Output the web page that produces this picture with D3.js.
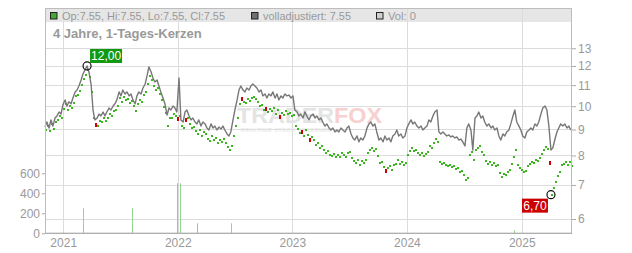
<!DOCTYPE html>
<html>
<head>
<meta charset="utf-8">
<script src="https://cdn.jsdelivr.net/npm/d3@7.9.0/dist/d3.min.js"></script>
<style>
  html, body { margin: 0; padding: 0; background: #fff; }
  svg { display: block; font-family: 'Liberation Sans', Arial, sans-serif; }
  .axis text { fill: #999; font-size: 12px; }
  .axis path { display: none; }
  .axis line { stroke: #aaa; }
</style>
</head>
<body>
<svg id="chart" width="632" height="253"></svg>
<script>
// sampling grid of the series (first sample, days between samples)
const startDate = new Date(2020, 10, 4);
const endDate = new Date(2025, 5, 10);
const stepDays = 6.37;

// volladjustiert (grey line)
const closeAdj = [
  9.10, 9.31, 9.06, 9.40, 9.14, 9.48, 9.57, 9.74, 9.65, 10.06, 10.29, 10.01, 10.20, 10.11, 10.38, 10.67,
  10.76, 10.96, 11.26, 11.57, 11.78, 12.00, 11.68, 11.01, 9.83, 9.40, 9.48, 9.65, 9.57, 9.74, 9.57, 9.74,
  9.92, 9.83, 10.01, 10.11, 10.29, 10.67, 10.48, 10.76, 10.57, 10.67, 10.48, 10.57, 10.29, 10.11, 10.48, 10.67,
  10.57, 10.86, 11.06, 11.47, 11.95, 11.68, 11.36, 11.16, 11.26, 10.96, 10.67, 10.38, 10.11, 9.61, 9.92, 9.83,
  10.01, 9.92, 9.74, 11.36, 9.40, 9.31, 9.74, 9.83, 9.57, 9.40, 9.48, 9.31, 9.23, 9.40, 9.14, 9.31,
  9.23, 9.06, 8.98, 9.23, 9.06, 9.14, 8.98, 9.10, 9.02, 9.14, 8.98, 8.82, 8.74, 8.90, 9.40, 9.83,
  10.29, 10.76, 10.96, 10.76, 10.67, 10.86, 10.76, 10.96, 11.06, 10.96, 10.86, 10.67, 10.76, 10.48, 10.57, 10.38,
  10.57, 10.48, 10.67, 10.38, 10.57, 10.29, 10.48, 10.38, 10.57, 10.48, 10.52, 10.38, 10.48, 9.83, 9.74, 9.57,
  9.65, 9.48, 9.74, 9.57, 9.40, 9.57, 9.65, 9.48, 9.57, 9.40, 9.48, 9.31, 9.14, 9.23, 9.06, 8.98,
  9.06, 8.90, 8.98, 8.90, 9.06, 8.98, 8.90, 9.06, 9.14, 8.82, 8.66, 8.58, 8.74, 8.51, 8.66, 8.58,
  8.74, 9.06, 9.23, 9.31, 9.14, 9.23, 8.90, 8.58, 8.66, 8.51, 8.74, 8.58, 8.66, 8.51, 8.74, 8.82,
  8.98, 8.74, 8.82, 8.66, 8.74, 9.06, 9.23, 9.40, 9.23, 9.31, 9.14, 9.06, 9.14, 8.98, 9.06, 9.14,
  9.40, 9.31, 9.57, 9.74, 9.83, 8.90, 8.82, 8.90, 8.82, 8.74, 8.78, 8.70, 8.74, 8.66, 8.70, 8.58,
  8.62, 8.51, 8.35, 9.06, 9.23, 8.98, 8.20, 9.48, 9.57, 9.74, 9.48, 9.57, 9.31, 9.14, 9.23, 9.06,
  9.14, 8.98, 9.06, 8.74, 8.58, 8.82, 8.74, 8.90, 8.98, 9.23, 9.57, 9.83, 9.31, 9.14, 8.98, 8.74,
  8.66, 8.90, 8.98, 9.06, 8.98, 9.23, 9.14, 9.31, 9.65, 9.92, 10.01, 9.83, 9.18, 8.20, 8.28, 8.58,
  8.90, 9.06, 9.23, 9.14, 9.23, 9.06, 9.14, 8.98
];

// 1-day candles (Op = Hi = Lo = Cl, drawn as dots)
const closeRaw = [
  8.98, 9.14, 8.94, 9.23, 9.02, 9.31, 9.40, 9.57, 9.48, 9.88, 10.11, 9.83, 10.01, 9.92, 10.15, 10.48,
  10.52, 10.72, 11.01, 11.31, 11.52, 11.78, 11.42, 10.67, 9.48, 9.23, 9.14, 9.35, 9.31, 9.48, 9.35, 9.48,
  9.65, 9.57, 9.79, 9.83, 10.01, 10.38, 10.20, 10.43, 10.29, 10.34, 10.15, 10.24, 10.01, 9.79, 10.11, 10.29,
  10.20, 10.52, 10.67, 11.06, 11.47, 11.26, 10.96, 10.76, 10.86, 10.57, 10.29, 9.97, 9.70, 9.14, 9.48, 9.48,
  9.65, 9.57, 9.48, 9.57, 9.14, 9.06, 9.44, 9.48, 9.23, 9.06, 9.10, 8.94, 8.82, 8.98, 8.74, 8.90,
  8.82, 8.62, 8.54, 8.74, 8.58, 8.66, 8.47, 8.58, 8.51, 8.62, 8.47, 8.31, 8.20, 8.35, 8.74, 9.14,
  9.48, 10.11, 10.38, 10.20, 10.15, 10.34, 10.24, 10.38, 10.43, 10.34, 10.20, 10.01, 10.06, 9.83, 9.92, 9.74,
  9.88, 9.79, 9.92, 9.65, 9.83, 9.57, 9.70, 9.61, 9.79, 9.65, 9.70, 9.57, 9.61, 9.14, 9.02, 8.86,
  8.94, 8.74, 8.98, 8.78, 8.62, 8.70, 8.58, 8.39, 8.47, 8.28, 8.35, 8.20, 8.09, 8.16, 8.02, 7.98,
  8.05, 7.95, 8.02, 7.95, 8.09, 8.02, 7.95, 8.09, 8.13, 7.91, 7.80, 7.73, 7.84, 7.66, 7.80, 7.73,
  7.84, 8.09, 8.20, 8.28, 8.16, 8.24, 7.98, 7.73, 7.77, 7.59, 7.49, 7.56, 7.63, 7.49, 7.66, 7.70,
  7.84, 7.70, 7.77, 7.66, 7.73, 8.02, 8.16, 8.28, 8.16, 8.20, 8.09, 8.02, 8.09, 7.98, 8.05, 8.13,
  8.35, 8.28, 8.47, 8.62, 8.51, 7.77, 7.70, 7.73, 7.66, 7.63, 7.66, 7.59, 7.63, 7.53, 7.56, 7.42,
  7.46, 7.32, 7.16, 7.22, 8.02, 8.13, 7.84, 8.20, 8.28, 8.35, 8.13, 8.02, 7.80, 7.70, 7.77, 7.66,
  7.73, 7.63, 7.66, 7.39, 7.26, 7.36, 7.32, 7.42, 7.49, 7.70, 7.95, 8.20, 7.66, 7.56, 7.49, 7.42,
  7.46, 7.63, 7.70, 7.77, 7.73, 7.84, 7.80, 7.91, 8.05, 8.20, 8.31, 8.24, 7.77, 6.70, 6.90, 7.09,
  7.29, 7.42, 7.66, 7.70, 7.77, 7.66, 7.77, 7.63
];

// samples where the candle closed lower (red)
const redSamples = [25, 66, 70, 98, 110, 117, 128, 132, 170, 252];

// volume
const volDates = ['2021-03-05', '2021-08-08', '2021-12-30', '2022-01-08', '2022-03-03', '2022-06-20', '2024-12-07'];
const volValues = [250, 250, 500, 500, 100, 100, 30];
const volUp = [true, true, false, true, false, true, true];

const priceTicks = [6, 7, 8, 9, 10, 11, 12, 13];
const volTicks = [0, 200, 400, 600];

const legendItems = [
  { label: 'Op:7.55, Hi:7.55, Lo:7.55, Cl:7.55', fill: '#44a832', x: 50, w: 163 },
  { label: 'volladjustiert: 7.55', fill: '#707070', x: 251, w: 88 },
  { label: 'Vol: 0', fill: '#cfcfcf', x: 376, w: 28 }
];
const title = '4 Jahre, 1-Tages-Kerzen';

const svg = d3.select('#chart');
const plotLeft = 45, plotRight = 572, plotTop = 8, plotBottom = 233.3, headerH = 14;

let parse = d3.timeParse('%Y-%m-%d');
let dates = closeAdj.map((_, i) => d3.timeDay.offset(startDate, Math.round(i * stepDays)));

let x = d3.scaleTime().domain([startDate, endDate]).range([plotLeft, plotRight]);
let y = d3.scaleLog().domain([6, 13]).range([219, 48.3]);
let yVol = d3.scaleLinear().domain([0, 700]).range([plotBottom, plotBottom - 70]);

// header band
svg.append('rect')
   .attr('x', plotLeft).attr('y', plotTop).attr('width', plotRight - plotLeft).attr('height', headerH)
   .attr('fill', '#e6e6e6');

// gridlines
svg.append('g').selectAll('line').data(priceTicks).join('line')
   .attr('x1', plotLeft).attr('x2', plotRight)
   .attr('y1', (d) => Math.round(y(d)) + 0.5).attr('y2', (d) => Math.round(y(d)) + 0.5)
   .attr('stroke', '#dcdcdc');

let years = d3.timeYear.range(new Date(2021, 0, 1), endDate);
svg.append('g').selectAll('line').data(years).join('line')
   .attr('x1', (d) => Math.round(x(d)) + 0.5).attr('x2', (d) => Math.round(x(d)) + 0.5)
   .attr('y1', plotTop).attr('y2', plotBottom)
   .attr('stroke', '#dcdcdc');

// watermark
let wm = svg.append('g').attr('opacity', 0.9);
let wmText = wm.append('text')
   .attr('x', 237).attr('y', 123)
   .attr('font-size', 22).attr('font-weight', 'bold')
   .attr('textLength', 145).attr('lengthAdjust', 'spacingAndGlyphs');
wmText.append('tspan').attr('fill', '#e2e2e2').text('TRADER');
wmText.append('tspan').attr('fill', '#f7cccc').text('FOX');
wm.append('text')
   .attr('x', 241).attr('y', 132)
   .attr('font-size', 5.5).attr('font-weight', 'bold').attr('fill', '#e8e8e8')
   .attr('textLength', 90)
   .text('REALTIME STOCK SCREENER');

// volume bars
svg.append('g').selectAll('line').data(volValues).join('line')
   .attr('x1', (d, i) => Math.round(x(parse(volDates[i]))) + 0.5)
   .attr('x2', (d, i) => Math.round(x(parse(volDates[i]))) + 0.5)
   .attr('y1', plotBottom).attr('y2', (d) => yVol(d))
   .attr('stroke', (d, i) => (volUp[i] ? '#8fd88f' : '#ee9a9a'));

// candles as dots
svg.append('g').attr('shape-rendering', 'crispEdges')
   .selectAll('rect').data(closeRaw).join('rect')
   .attr('x', (d, i) => Math.round(x(dates[i])))
   .attr('y', (d) => Math.round(y(d)) - 1)
   .attr('width', 2).attr('height', (d, i) => (redSamples.includes(i) ? 4 : 2))
   .attr('fill', (d, i) => (redSamples.includes(i) ? '#cc0000' : '#3cb521'));

// adjusted line
let line = d3.line().x((d, i) => x(dates[i])).y((d) => y(d));
svg.append('path')
   .datum(closeAdj)
   .attr('d', line)
   .attr('fill', 'none')
   .attr('stroke', '#777')
   .attr('stroke-width', 1.4)
   .attr('stroke-linejoin', 'round');

// frame
svg.append('rect')
   .attr('x', plotLeft + 0.5).attr('y', plotTop + 0.5)
   .attr('width', plotRight - plotLeft - 1).attr('height', plotBottom - plotTop - 0.5)
   .attr('fill', 'none').attr('stroke', '#bdbdbd');
svg.append('line')
   .attr('x1', plotLeft).attr('x2', plotRight).attr('y1', plotBottom).attr('y2', plotBottom)
   .attr('stroke', '#a8a8a8');

// axes
svg.append('g').attr('class', 'axis')
   .attr('transform', `translate(${plotRight},0)`)
   .call(d3.axisRight(y).tickValues(priceTicks).tickFormat(d3.format('d')).tickSize(4).tickPadding(2));

svg.append('g').attr('class', 'axis')
   .attr('transform', `translate(${plotLeft},0)`)
   .call(d3.axisLeft(yVol).tickValues(volTicks).tickSize(3).tickPadding(2));

svg.append('g').attr('class', 'axis')
   .attr('transform', `translate(0,${plotBottom})`)
   .call(d3.axisBottom(x).tickValues(years).tickFormat(d3.timeFormat('%Y')).tickSize(0).tickPadding(5));

// legend
let leg = svg.append('g').selectAll('g').data(legendItems).join('g');
leg.append('rect')
   .attr('x', (d) => d.x + 0.5).attr('y', 12.5).attr('width', 6.5).attr('height', 6.5)
   .attr('fill', (d) => d.fill).attr('stroke', '#222');
leg.append('text')
   .attr('x', (d) => d.x + 12).attr('y', 19.5)
   .attr('font-size', 11.5).attr('fill', '#999')
   .attr('textLength', (d) => d.w).attr('lengthAdjust', 'spacingAndGlyphs')
   .text((d) => d.label);

svg.append('text')
   .attr('x', 53).attr('y', 38)
   .attr('font-size', 13).attr('font-weight', 'bold').attr('fill', '#999')
   .text(title);

// max / min markers
let all = closeAdj.map((v, i) => ({ v, i })).concat(closeRaw.map((v, i) => ({ v, i })));
let hi = all[d3.maxIndex(all, (d) => d.v)];
let lo = all[d3.minIndex(all, (d) => d.v)];
let fmt = (v) => d3.format('.2f')(v).replace('.', ',');

function marker(d, color, dx, dy, w) {
  let cx = x(dates[d.i]), cy = y(d.v);
  let bx = dx > 0 ? cx + dx : cx + dx - w;
  let by = cy + dy;
  svg.append('rect').attr('x', bx).attr('y', by).attr('width', w).attr('height', 14).attr('fill', color);
  svg.append('text').attr('x', bx + w / 2).attr('y', by + 11.5)
     .attr('text-anchor', 'middle').attr('font-size', 12).attr('fill', '#fff')
     .text(fmt(d.v));
  svg.append('circle').attr('cx', cx).attr('cy', cy).attr('r', 4)
     .attr('fill', 'none').attr('stroke', '#111').attr('stroke-width', 1.2);
}
marker(hi, '#119911', 3, -17, 32);
marker(lo, '#cc0000', -3, 4, 26);
</script>
</body>
</html>
